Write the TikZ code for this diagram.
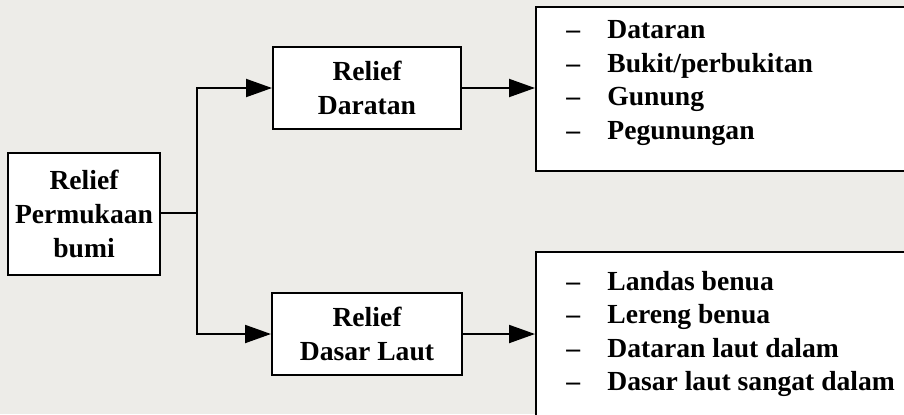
\documentclass[tikz,border=0pt]{standalone}
\usepackage{fontspec}
\setmainfont{Liberation Serif}
\usetikzlibrary{arrows.meta,positioning}
\definecolor{bgpaper}{RGB}{237,236,232}
\tikzset{
  box/.style={draw, line width=1pt, fill=white, inner sep=0pt, align=center,
    font=\fontsize{13.8}{17}\selectfont\bfseries},
  listbox/.style={draw, line width=1pt, fill=white, inner sep=0pt},
  listtext/.style={anchor=west, align=left, inner sep=0pt,
    font=\fontsize{13.8}{16.8}\selectfont\bfseries},
  arr/.style={line width=1pt, -{Triangle[length=13pt,width=9pt]}},
  link/.style={line width=1pt}
}
\newcommand{\itemdash}{\makebox[20.5pt][l]{--}}

\begin{document}
\begin{tikzpicture}[x=0.5pt,y=-0.5pt]
        \useasboundingbox (0,0) rectangle (904,414);
        \fill[bgpaper] (0,0) rectangle (904,414);
        \clip (0,0) rectangle (904,414);

        \node[box, minimum width=76pt, minimum height=61pt] (root) at (84,214) {Relief\\Permukaan\\bumi};
        \node[box, minimum width=94pt, minimum height=41pt] (dar) at (367,88) {Relief\\Daratan};
        \node[box, minimum width=95pt, minimum height=41pt] (laut) at (367,334) {Relief\\Dasar Laut};

        \node[listbox, minimum width=187pt, minimum height=82pt] (darbox) at (723,89) {};
        \node[listbox, minimum width=187pt, minimum height=84pt] (lautbox) at (723,336) {};

        \node[listtext] (darlist) at (566,83) {\itemdash Dataran\\ \itemdash Bukit/perbukitan\\ \itemdash Gunung\\ \itemdash Pegunungan};
        \node[listtext] (lautlist) at (566,334) {\itemdash Landas benua\\ \itemdash Lereng benua\\ \itemdash Dataran laut dalam\\ \itemdash Dasar laut sangat dalam};

        \coordinate (j) at (197,213);

        \draw[link] (root.east |- j) -- (j);
        \draw[arr] (j) |- (dar.west);
        \draw[arr] (j) |- (laut.west);
        \draw[arr] (dar.east) -- (dar.east -| darbox.west);
        \draw[arr] (laut.east) -- (laut.east -| lautbox.west);
    \end{tikzpicture}
\end{document}
